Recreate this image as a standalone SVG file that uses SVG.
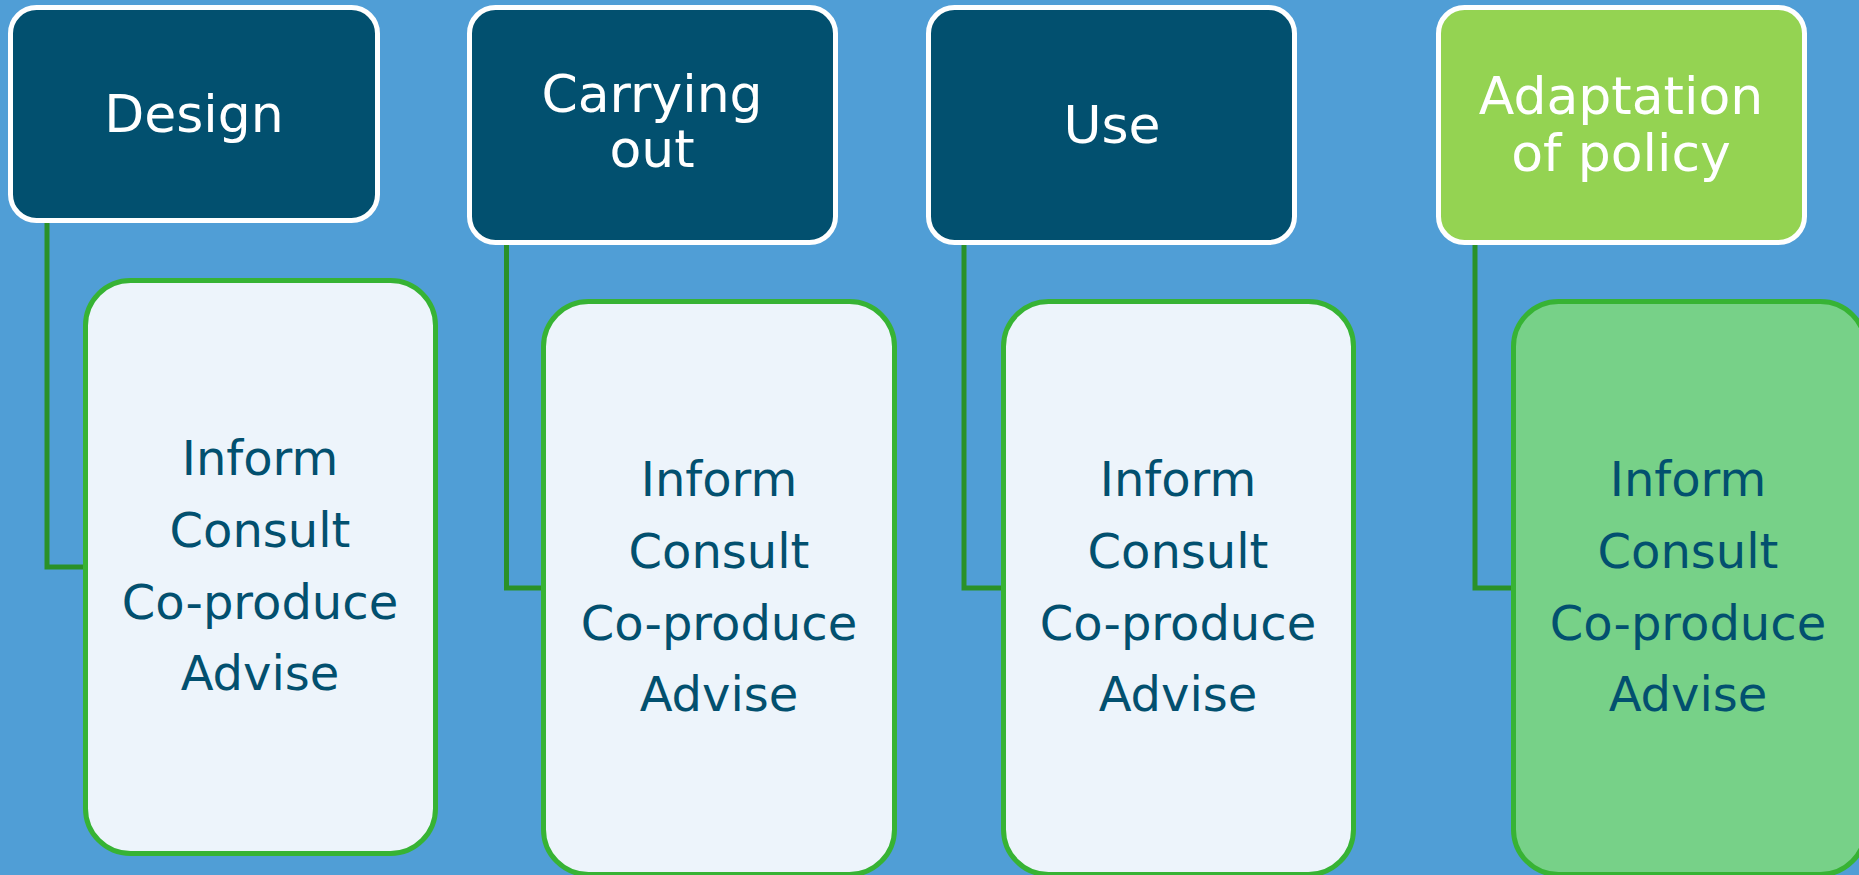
<svg xmlns="http://www.w3.org/2000/svg" width="1859" height="875" viewBox="0 0 1859 875">
<style>
.head{fill:#02506F;stroke:#FFFFFF;stroke-width:5}
.head.alt{fill:#94D352}
.det{fill:#EDF4FB;stroke:#37B334;stroke-width:5}
.det.alt{fill:#77D188}
.ht{font-family:"DejaVu Sans",Verdana,sans-serif;font-size:52px;fill:#FFFFFF;text-anchor:middle}
.dt{font-family:"DejaVu Sans",Verdana,sans-serif;font-size:48px;fill:#02506F;text-anchor:middle}
.conn{fill:none;stroke:#2A9128;stroke-width:5;stroke-linejoin:miter}
</style>
<rect x="0" y="0" width="1859" height="875" fill="#509ED6"/>
<g id="connectors">
<path class="conn" d="M47,221 V567 H86"/>
<path class="conn" d="M506.5,243 V588 H544"/>
<path class="conn" d="M964,243 V588 H1005"/>
<path class="conn" d="M1475,243 V588 H1515"/>
</g>
<g id="head-design">
<rect class="head" x="10.5" y="7.5" width="367" height="213" rx="26"/>
<text class="ht" x="194" y="132">Design</text>
</g>
<g id="head-carrying">
<rect class="head" x="469.5" y="7.5" width="366" height="235" rx="26"/>
<text class="ht" x="652" y="112">Carrying</text>
<text class="ht" x="652" y="167">out</text>
</g>
<g id="head-use">
<rect class="head" x="928.5" y="7.5" width="366" height="235" rx="26"/>
<text class="ht" x="1112" y="143">Use</text>
</g>
<g id="head-adaptation">
<rect class="head alt" x="1438.5" y="7.5" width="366" height="235" rx="26"/>
<text class="ht" x="1621" y="114">Adaptation</text>
<text class="ht" x="1621" y="171">of policy</text>
</g>
<g id="detail-design">
<rect class="det" x="85.5" y="280.5" width="350" height="573" rx="45"/>
<text class="dt" x="260" y="475">Inform</text>
<text class="dt" x="260" y="547">Consult</text>
<text class="dt" x="260" y="619">Co-produce</text>
<text class="dt" x="260" y="690">Advise</text>
</g>
<g id="detail-carrying">
<rect class="det" x="543.5" y="301.5" width="351" height="573" rx="45"/>
<text class="dt" x="719" y="496">Inform</text>
<text class="dt" x="719" y="568">Consult</text>
<text class="dt" x="719" y="640">Co-produce</text>
<text class="dt" x="719" y="711">Advise</text>
</g>
<g id="detail-use">
<rect class="det" x="1003.5" y="301.5" width="350" height="573" rx="45"/>
<text class="dt" x="1178" y="496">Inform</text>
<text class="dt" x="1178" y="568">Consult</text>
<text class="dt" x="1178" y="640">Co-produce</text>
<text class="dt" x="1178" y="711">Advise</text>
</g>
<g id="detail-adaptation">
<rect class="det alt" x="1513.5" y="301.5" width="352" height="573" rx="45"/>
<text class="dt" x="1688" y="496">Inform</text>
<text class="dt" x="1688" y="568">Consult</text>
<text class="dt" x="1688" y="640">Co-produce</text>
<text class="dt" x="1688" y="711">Advise</text>
</g>
</svg>
